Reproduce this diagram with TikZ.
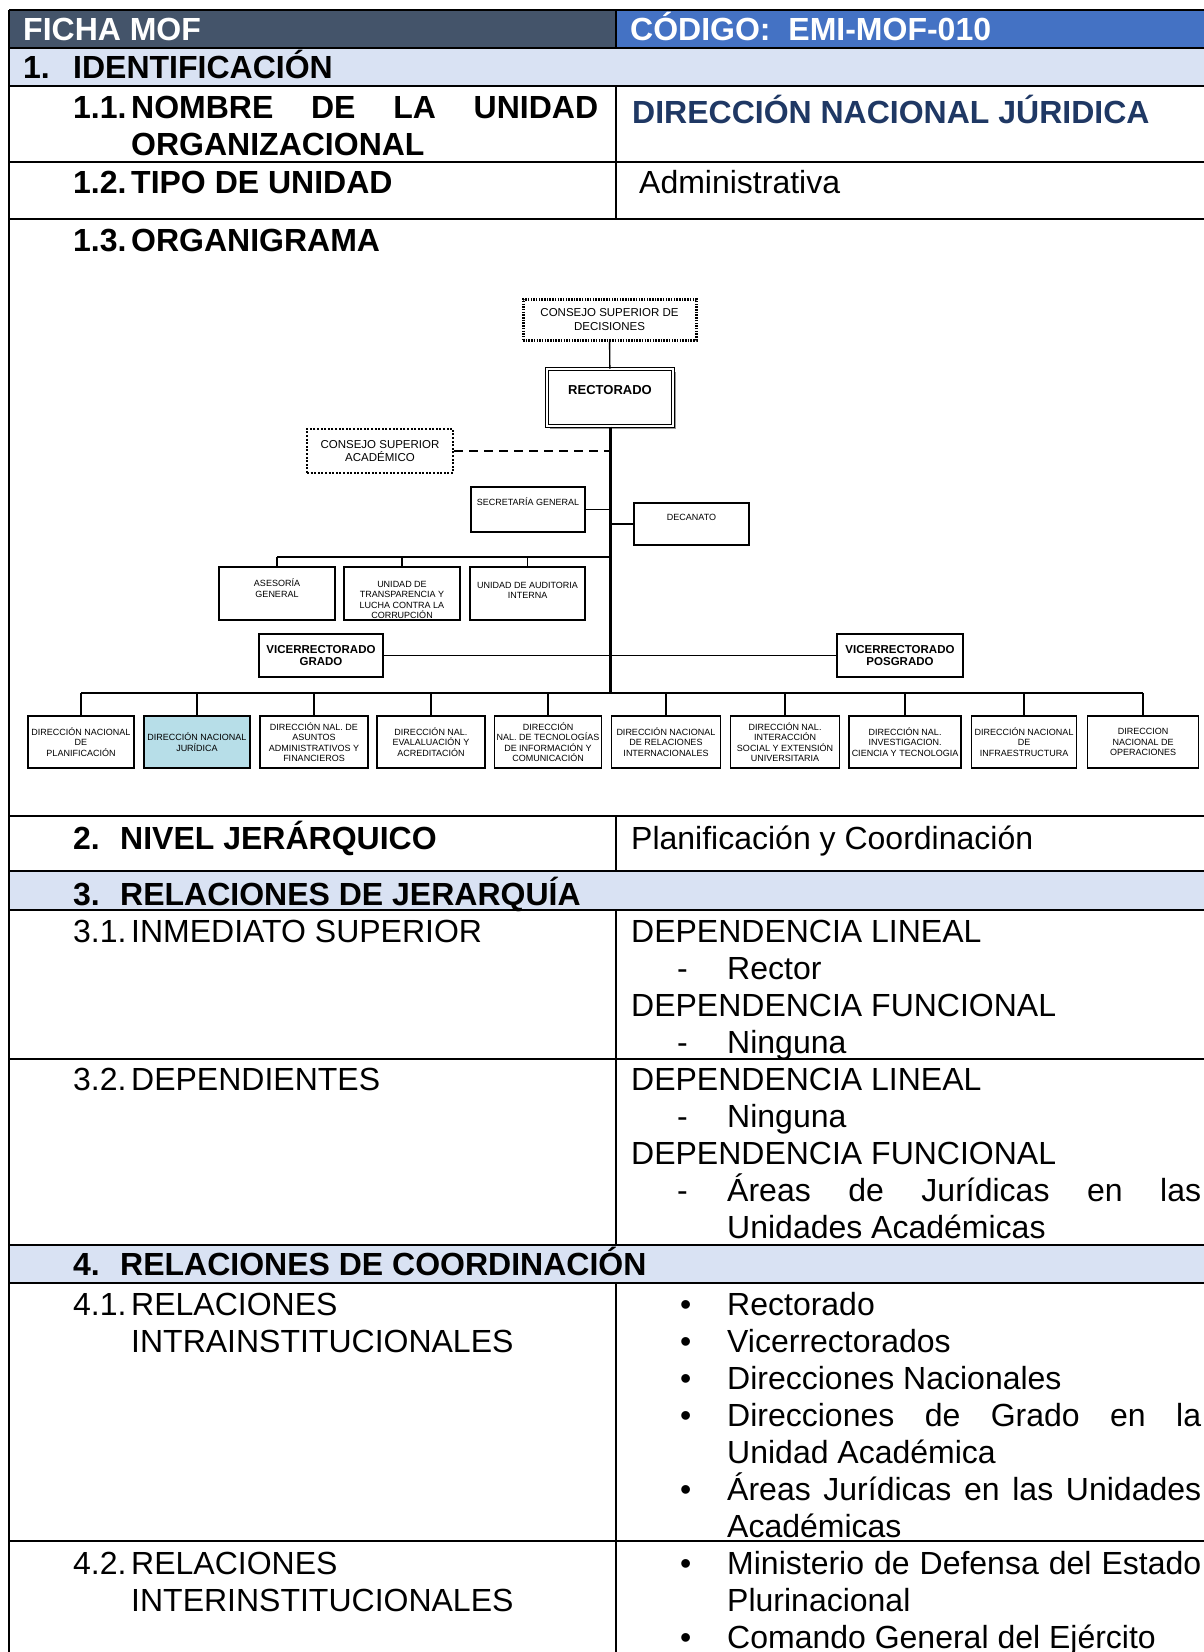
\documentclass[tikz,border=0pt]{standalone}
\usepackage{fontspec}
\setmainfont{Liberation Sans}
\usetikzlibrary{shadows}

\definecolor{mofslate}{HTML}{44546A}
\definecolor{mofblue}{HTML}{4472C4}
\definecolor{mofpale}{HTML}{D9E2F3}
\definecolor{mofnavy}{HTML}{1F3864}
\definecolor{jurfill}{HTML}{B7DEE8}

\newcommand{\mofsize}{\fontsize{32}{37}\selectfont}
\newcommand{\boxtop}[4]{\parbox[c][#1][t]{#2}{\centering\vspace*{#3}#4\par}}

\tikzset{
  thinrule/.style={line width=1.3pt},
  midrule/.style={line width=2pt},
  thickrule/.style={line width=2.6pt},
  txt/.style={anchor=base west, inner sep=0pt, font=\mofsize},
  headtxt/.style={txt, font=\mofsize\bfseries},
  orgbox/.style={draw, line width=1.6pt, inner sep=0pt, align=center,
    font=\fontsize{9}{10.5}\selectfont},
  dirbox/.style={orgbox, minimum height=52pt},
  vicebox/.style={orgbox, minimum width=124pt, minimum height=43pt,
    font=\fontsize{11.5}{12.5}\selectfont\bfseries},
  link/.style={line width=1.4pt},
  spine/.style={line width=3pt}
}

\begin{document}
\begin{tikzpicture}[x=1pt,y=-1pt]
\useasboundingbox (0,0) rectangle (1204,1652);

% table background
\fill[mofslate] (9,10) rectangle (616,48);
\fill[mofblue] (616,10) rectangle (1204,48);
\fill[mofpale] (9,48) rectangle (1204,86);
\fill[mofpale] (9,871) rectangle (1204,910);
\fill[mofpale] (9,1245) rectangle (1204,1283);

\foreach \y in {10,48,1059,1541} \draw[thinrule] (9,\y) -- (1204,\y);
\foreach \y in {910,1245} \draw[midrule] (9,\y) -- (1204,\y);
\foreach \y in {86,162,219,816,871,1283} \draw[thickrule] (9,\y) -- (1204,\y);
\draw[thinrule] (9,10) -- (9,1652);
\foreach \a/\b in {10/48,86/219,816/871,910/1245,1283/1652}
  \draw[thinrule] (616,\a) -- (616,\b);

% table text
\node[headtxt, white] (ficha) at (23,40) {FICHA MOF};
\node[headtxt, white] (codigo) at (630,40) {CÓDIGO:\ \ EMI-MOF-010};

\node[headtxt] (n1) at (23,78) {1.};
\node[headtxt] (t1) at (73,78) {IDENTIFICACIÓN};
\node[headtxt] (n11) at (73,118) {1.1.};
\node[headtxt] (t11) at (131,118) {\makebox[467pt][s]{NOMBRE DE LA UNIDAD}};
\node[headtxt] (t11b) at (131,155) {ORGANIZACIONAL};
\node[headtxt, text=mofnavy] (unidad) at (632,123) {DIRECCIÓN NACIONAL JÚRIDICA};
\node[headtxt] (n12) at (73,193) {1.2.};
\node[headtxt] (t12) at (131,193) {TIPO DE UNIDAD};
\node[txt] (tipo) at (639,193) {Administrativa};
\node[headtxt] (n13) at (73,251) {1.3.};
\node[headtxt] (t13) at (131,251) {ORGANIGRAMA};

\node[headtxt] (n2) at (73,849) {2.};
\node[headtxt] (t2) at (120,849) {NIVEL JERÁRQUICO};
\node[txt] (nivel) at (631,849) {Planificación y Coordinación};

\node[headtxt] (n3) at (73,905) {3.};
\node[headtxt] (t3) at (120,905) {RELACIONES DE JERARQUÍA};
\node[txt] (n31) at (73,942) {3.1.};
\node[txt] (t31) at (131,942) {INMEDIATO SUPERIOR};
\node[txt] (sup1) at (631,942) {DEPENDENCIA LINEAL};
\node[txt] (sup1d) at (677,979) {-};
\node[txt] (sup1t) at (727,979) {Rector};
\node[txt] (sup2) at (631,1016) {DEPENDENCIA FUNCIONAL};
\node[txt] (sup2d) at (677,1053) {-};
\node[txt] (sup2t) at (727,1053) {Ninguna};
\node[txt] (n32) at (73,1090) {3.2.};
\node[txt] (t32) at (131,1090) {DEPENDIENTES};
\node[txt] (dep1) at (631,1090) {DEPENDENCIA LINEAL};
\node[txt] (dep1d) at (677,1127) {-};
\node[txt] (dep1t) at (727,1127) {Ninguna};
\node[txt] (dep2) at (631,1164) {DEPENDENCIA FUNCIONAL};
\node[txt] (dep2d) at (677,1201) {-};
\node[txt] (dep2t) at (727,1201) {\makebox[474pt][s]{Áreas de Jurídicas en las}};
\node[txt] (dep2u) at (727,1238) {Unidades Académicas};

\node[headtxt] (n4) at (73,1275) {4.};
\node[headtxt] (t4) at (120,1275) {RELACIONES DE COORDINACIÓN};
\node[txt] (n41) at (73,1315) {4.1.};
\node[txt] (t41) at (131,1315) {RELACIONES};
\node[txt] (t41b) at (131,1352) {INTRAINSTITUCIONALES};
\node[txt] (intra1) at (727,1315) {Rectorado};
\node[txt] (intra2) at (727,1352) {Vicerrectorados};
\node[txt] (intra3) at (727,1389) {Direcciones Nacionales};
\node[txt] (intra4) at (727,1426) {\makebox[474pt][s]{Direcciones de Grado en la}};
\node[txt] (intra4b) at (727,1463) {Unidad Académica};
\node[txt] (intra5) at (727,1500) {\makebox[474pt][s]{Áreas Jurídicas en las Unidades}};
\node[txt] (intra5b) at (727,1537) {Académicas};
\foreach \y [count=\i] in {1315,1352,1389,1426,1500}
  \node[txt] (bi\i) at (680,\y) {•};
\node[txt] (n42) at (73,1574) {4.2.};
\node[txt] (t42) at (131,1574) {RELACIONES};
\node[txt] (t42b) at (131,1611) {INTERINSTITUCIONALES};
\node[txt] (inter1) at (727,1574) {\makebox[474pt][s]{Ministerio de Defensa del Estado}};
\node[txt] (inter1b) at (727,1611) {Plurinacional};
\node[txt] (inter2) at (727,1648) {Comando General del Ejército};
\foreach \y [count=\i] in {1574,1648}
  \node[txt] (be\i) at (680,\y) {•};

% organigrama
\node[orgbox, line width=3pt, dash pattern=on 1.5pt off 1.2pt, minimum width=173pt,
  minimum height=41pt, font=\fontsize{11.5}{13.5}\selectfont] (csd) at (609.5,319.5)
  {CONSEJO SUPERIOR DE\\DECISIONES};
\node[draw, fill=white, double, double distance=1.6pt, line width=1pt, inner sep=0pt,
  font=\fontsize{13}{15}\selectfont\bfseries,
  drop shadow={shadow xshift=2.5pt, shadow yshift=-2.5pt, fill=black!40, opacity=1}]
  (rect) at (610,397.5) {\boxtop{57pt}{126pt}{16pt}{RECTORADO}};
\node[orgbox, line width=2pt, dash pattern=on 2pt off 1.6pt, minimum width=146pt,
  minimum height=44pt, font=\fontsize{11.5}{13.5}\selectfont] (csa) at (380,451)
  {CONSEJO SUPERIOR\\ACADÉMICO};
\node[orgbox] (sg) at (528,509.5) {\boxtop{45pt}{114pt}{11pt}{SECRETARÍA GENERAL}};
\node[orgbox] (dec) at (691.5,524) {\boxtop{42pt}{115pt}{11pt}{DECANATO}};
\node[orgbox] (ase) at (277,593.5) {\boxtop{53pt}{116pt}{12pt}{ASESORÍA\\GENERAL}};
\node[orgbox] (utl) at (402,593.5) {\boxtop{53pt}{116pt}{14pt}{UNIDAD DE\\TRANSPARENCIA Y\\LUCHA CONTRA LA\\CORRUPCIÓN}};
\node[orgbox] (uai) at (527.5,593.5) {\boxtop{53pt}{115pt}{15pt}{UNIDAD DE AUDITORIA\\INTERNA}};
\node[vicebox] (vrg) at (321,655.5) {VICERRECTORADO\\GRADO};
\node[vicebox, minimum width=126pt] (vrp) at (900,655.5) {VICERRECTORADO\\POSGRADO};

\node[dirbox, minimum width=106pt] (dir1) at (81,742) {DIRECCIÓN NACIONAL\\DE\\PLANIFICACIÓN};
\node[dirbox, minimum width=106pt, fill=jurfill] (dir2) at (197,742) {DIRECCIÓN NACIONAL\\JURÍDICA};
\node[dirbox, minimum width=108pt] (dir3) at (314,742) {DIRECCIÓN NAL. DE\\ASUNTOS\\ADMINISTRATIVOS Y\\FINANCIEROS};
\node[dirbox, minimum width=108pt] (dir4) at (431,742) {DIRECCIÓN NAL.\\EVALALUACIÓN Y\\ACREDITACIÓN};
\node[dirbox, minimum width=107pt] (dir5) at (548,742) {DIRECCIÓN\\NAL. DE TECNOLOGÍAS\\DE INFORMACIÓN Y\\COMUNICACIÓN};
\node[dirbox, minimum width=109pt] (dir6) at (666,742) {DIRECCIÓN NACIONAL\\DE RELACIONES\\INTERNACIONALES};
\node[dirbox, minimum width=109pt] (dir7) at (785,742) {DIRECCIÓN NAL.\\INTERACCIÓN\\SOCIAL Y EXTENSIÓN\\UNIVERSITARIA};
\node[dirbox, minimum width=112pt] (dir8) at (905,742) {DIRECCIÓN NAL.\\INVESTIGACION.\\CIENCIA Y TECNOLOGIA};
\node[dirbox, minimum width=105pt] (dir9) at (1024,742) {DIRECCIÓN NACIONAL\\DE\\INFRAESTRUCTURA};
\node[dirbox, minimum width=111pt] (dir10) at (1143,742) {DIRECCION\\NACIONAL DE\\OPERACIONES};

\coordinate (staff) at (610,557);
\coordinate (base) at (610,693);

\draw[link] (csd) -- (rect);
\draw[spine] (rect.south) -- (base);
\draw[link, dash pattern=on 9pt off 6pt] (csa.east) -- (csa.east -| base);
\draw[link] (sg.east) -- (sg.east -| base);
\draw[link] (dec.west -| base) -- (dec.west);
\draw[line width=2pt] (staff) -- (staff -| ase.north);
\foreach \n in {ase,utl,uai}
  \draw[link] (staff -| \n.north) -- (\n.north);
\draw[link] (vrg.east) -- (vrp.west);
\draw[line width=2.6pt] (base -| dir1.north) -- (base -| dir10.north);
\foreach \i in {1,...,10}
  \draw[link] (base -| dir\i.north) -- (dir\i.north);

\end{tikzpicture}
\end{document}
